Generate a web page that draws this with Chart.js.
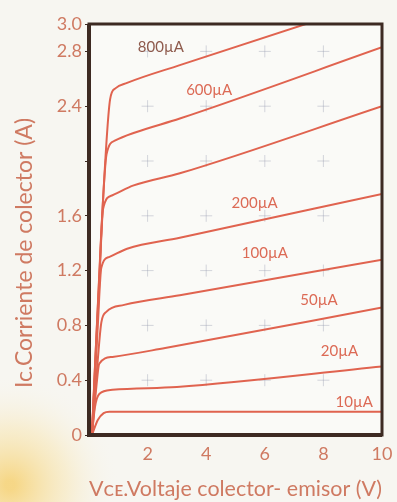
<!DOCTYPE html>
<html>
<head>
<meta charset="utf-8">
<script src="https://cdn.jsdelivr.net/npm/chart.js@4"></script>
<style>
  html, body { margin: 0; padding: 0; background: #f7f6f1; }
  #wrap { width: 397px; height: 502px; }
</style>
</head>
<body>
<div id="wrap"><canvas id="c" width="397" height="502"></canvas></div>
<script>
// curvas de salida del transistor, Ic (A) frente a Vce (V)
const baseCurrents = ['10µA', '20µA', '50µA', '100µA', '200µA', '', '600µA', '800µA'];

const vce10  = [0.1, 0.3, 0.5, 0.7, 10];
const ic10   = [0, 0.11, 0.16, 0.17, 0.17];
const vce20  = [0.1, 0.2, 0.35, 0.8, 3, 10];
const ic20   = [0, 0.2, 0.3, 0.33, 0.35, 0.5];
const vce50  = [0.1, 0.25, 0.35, 0.8, 2.6, 10];
const ic50   = [0, 0.35, 0.52, 0.57, 0.635, 0.93];
const vce100 = [0.1, 0.3, 0.42, 0.6, 1.2, 3.1, 10];
const ic100  = [0, 0.55, 0.82, 0.9, 0.95, 1.02, 1.28];
const vce200 = [0.1, 0.3, 0.42, 0.7, 1.3, 3.1, 10];
const ic200  = [0, 0.8, 1.22, 1.3, 1.36, 1.44, 1.76];
const vce400 = [0.1, 0.35, 0.48, 0.8, 1.5, 3.1, 10];
const ic400  = [0, 1.1, 1.65, 1.75, 1.82, 1.91, 2.4];
const vce600 = [0.1, 0.4, 0.6, 0.9, 1.6, 3.1, 10];
const ic600  = [0, 1.4, 2.05, 2.15, 2.21, 2.31, 2.83];
const vce800 = [0.1, 0.45, 0.72, 0.9, 1.3, 3.1, 10];
const ic800  = [0, 1.6, 2.45, 2.53, 2.57, 2.7, 3.18];

// donde va cada rotulo (en unidades de los ejes)
const labelVce = [9.05, 8.55, 7.85, 6.0, 5.65, 0, 4.1, 2.45];
const labelIc  = [0.24, 0.61, 0.985, 1.33, 1.69, 0, 2.52, 2.83];

const yTicks = [0, 0.4, 0.8, 1.2, 1.6, 2.0, 2.4, 2.8, 3.0];
const xTicks = [0, 2, 4, 6, 8, 10];
const crossVce = [2, 4, 6, 8];
const crossIc = [0.4, 0.8, 1.2, 1.6, 2.0, 2.4, 2.8];

const yTitle = 'Ic.Corriente de colector (A)';
const xTitle = 'Vᴄᴇ.Voltaje colector- emisor (V)';

const vceSets = [vce10, vce20, vce50, vce100, vce200, vce400, vce600, vce800];
const icSets = [ic10, ic20, ic50, ic100, ic200, ic400, ic600, ic800];

const curveColor = '#e0634f';
const textColor = '#cf7a62';
const frameColor = '#3d2a22';
const font = 'Lato, "Open Sans", "DejaVu Sans", sans-serif';

const toPoints = (xs, ys) => xs.map((x, i) => ({ x: x, y: ys[i] }));

const crosses = [];
crossVce.forEach(x => crossIc.forEach(y => crosses.push({ x: x, y: y })));

const datasets = vceSets.map((xs, i) => ({
  data: toPoints(xs, icSets[i]),
  borderColor: curveColor,
  borderWidth: 2,
  pointRadius: 0,
  tension: 0.4,
  cubicInterpolationMode: 'monotone',
  order: 1
}));
datasets.push({
  type: 'scatter',
  data: crosses,
  pointStyle: 'cross',
  pointRadius: 6,
  borderWidth: 1,
  borderColor: 'rgba(150,155,175,0.4)',
  order: 10
});

// fondo de papel con la mancha amarilla abajo a la izquierda
const paper = {
  id: 'paper',
  beforeDraw(chart) {
    const { ctx, chartArea: a } = chart;
    ctx.save();
    ctx.fillStyle = '#f7f6f1';
    ctx.fillRect(0, 0, chart.width, chart.height);
    const g = ctx.createRadialGradient(10, 485, 5, 10, 485, 110);
    g.addColorStop(0, 'rgba(246,205,100,0.75)');
    g.addColorStop(0.5, 'rgba(248,225,160,0.4)');
    g.addColorStop(1, 'rgba(247,246,241,0)');
    ctx.fillStyle = g;
    ctx.fillRect(0, 360, 160, 142);
    ctx.fillStyle = '#fafaf7';
    ctx.fillRect(a.left, a.top, a.right - a.left, a.bottom - a.top);
    ctx.restore();
  }
};

// marco, rotulos de las curvas y titulo vertical
const frame = {
  id: 'frame',
  afterDatasetsDraw(chart) {
    const { ctx, chartArea: a, scales } = chart;
    ctx.save();
    ctx.font = '15px ' + font;
    ctx.textAlign = 'center';
    ctx.textBaseline = 'middle';
    baseCurrents.forEach((txt, i) => {
      if (!txt) return;
      ctx.fillStyle = i === 7 ? '#8e5a4c' : '#dc6a55';
      ctx.fillText(txt, scales.x.getPixelForValue(labelVce[i]), scales.y.getPixelForValue(labelIc[i]));
    });
    ctx.strokeStyle = frameColor;
    ctx.lineWidth = 3;
    ctx.strokeRect(a.left, a.top, a.right - a.left, a.bottom - a.top);
    ctx.lineWidth = 4;
    ctx.beginPath();
    ctx.moveTo(a.left, a.top);
    ctx.lineTo(a.left, a.bottom);
    ctx.lineTo(a.right, a.bottom);
    ctx.stroke();

    ctx.translate(25, 253);
    ctx.rotate(-Math.PI / 2);
    ctx.font = '23px ' + font;
    ctx.fillStyle = textColor;
    ctx.fillText(yTitle, 0, 0);
    ctx.restore();
  }
};

new Chart(document.getElementById('c'), {
  type: 'line',
  data: { datasets: datasets },
  plugins: [paper, frame],
  options: {
    responsive: false,
    animation: false,
    layout: { padding: { left: 0, right: 15, top: 24, bottom: 0 } },
    plugins: { legend: { display: false }, tooltip: { enabled: false } },
    scales: {
      x: {
        type: 'linear',
        min: 0,
        max: 10,
        afterFit(s) { s.height = 67; },
        afterBuildTicks(s) { s.ticks = xTicks.map(v => ({ value: v })); },
        grid: { drawOnChartArea: false, tickLength: 4, tickColor: 'rgba(0,0,0,0)' },
        border: { display: false },
        ticks: {
          color: textColor,
          padding: 4,
          font: { family: font, size: 18 },
          callback: v => (v === 0 ? '' : String(v))
        },
        title: {
          display: true,
          text: xTitle,
          color: textColor,
          padding: 0,
          font: { family: font, size: 22 }
        }
      },
      y: {
        type: 'linear',
        min: 0,
        max: 3,
        afterFit(s) { s.width = 89; },
        afterBuildTicks(s) { s.ticks = yTicks.map(v => ({ value: v })); },
        grid: { drawOnChartArea: false, tickLength: 4, tickColor: frameColor },
        border: { display: false },
        ticks: {
          autoSkip: false,
          color: textColor,
          padding: 3,
          font: { family: font, size: 18 },
          callback: v => (v === 0 ? '0' : v === 2 ? '' : v.toFixed(1))
        }
      }
    }
  }
});
</script>
</body>
</html>
